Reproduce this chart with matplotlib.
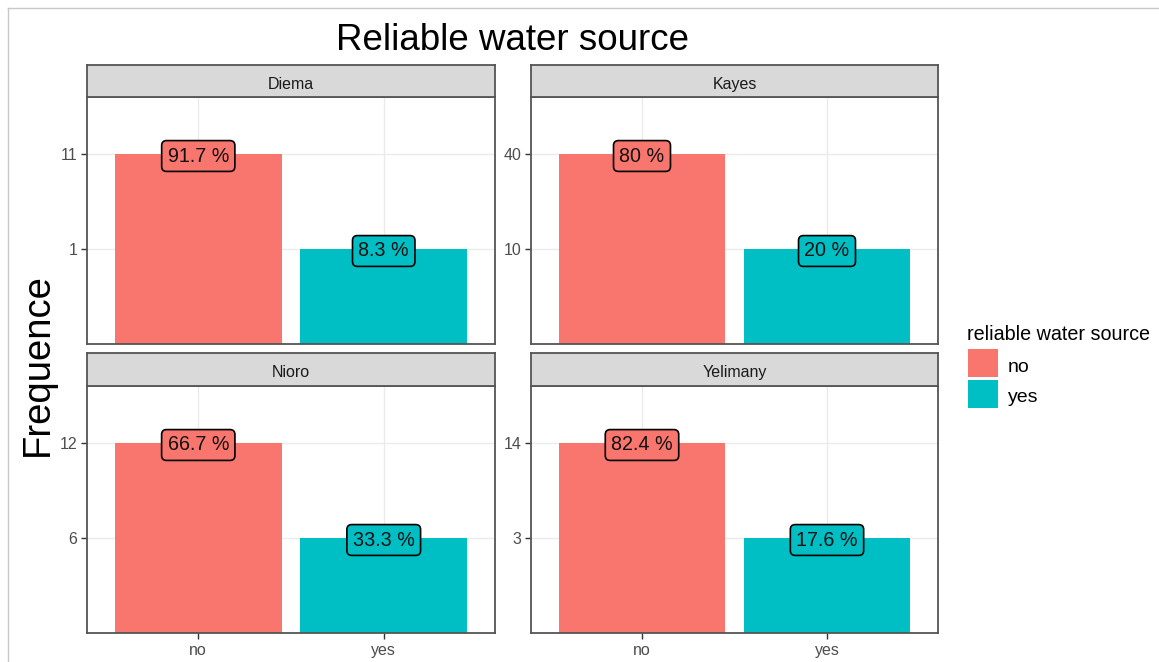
import matplotlib
matplotlib.use("Agg")
import matplotlib.pyplot as plt
from matplotlib.lines import Line2D

plt.rcParams['font.family'] = ['Liberation Sans', 'DejaVu Sans']

# ---- data ----
regions = ["Diema", "Kayes", "Nioro", "Yelimany"]
categories = ["no", "yes"]
counts_no = [11, 40, 12, 14]
counts_yes = [1, 10, 6, 3]
colors = {"no": "#F8766D", "yes": "#00BFC4"}
title = "Reliable water source"
ylabel = "Frequence"
legend_title = "reliable water source"

W, H = 1159, 662
fig = plt.figure(figsize=(W / 100, H / 100), dpi=100)

def fr(x0, y0, x1, y1):
    # pixel box (top-left origin) -> figure fraction [l, b, w, h]
    return [x0 / W, 1 - y1 / H, (x1 - x0) / W, (y1 - y0) / H]

cols = [(87, 495), (531, 938)]
rows = [((65, 97), (97, 344)), ((353, 386), (386, 633))]

def fmt_pct(p):
    return f"{round(p, 1):g} %"

for i, region in enumerate(regions):
    r, c = divmod(i, 2)
    (sy0, sy1), (py0, py1) = rows[r]
    x0, x1 = cols[c]
    ax = fig.add_axes(fr(x0, py0, x1, py1))
    sax = fig.add_axes(fr(x0, sy0, x1, sy1))

    vals = [counts_no[i], counts_yes[i]]
    total = sum(vals)
    levels = sorted(set(vals))
    pos = [levels.index(v) + 1 for v in vals]
    xs = [1, 2]
    for x, p, cat, v in zip(xs, pos, categories, vals):
        ax.bar(x, p, width=0.9, color=colors[cat], zorder=2)
        ax.text(x, p, fmt_pct(100 * v / total), ha="center", va="center_baseline",
                fontsize=14.2, color="#111111", zorder=4,
                bbox=dict(boxstyle="round,pad=0.3,rounding_size=0.25",
                          fc=colors[cat], ec="black", lw=1.2))
    ax.set_xlim(0.4, 2.6)
    ax.set_ylim(0, 2.6)
    ax.set_yticks(range(1, len(levels) + 1))
    ax.set_yticklabels([str(v) for v in levels])
    ax.set_xticks(xs)
    ax.grid(True, color="#EBEBEB", lw=1.0, zorder=0)
    ax.set_axisbelow(True)
    ax.tick_params(colors="#333333", labelcolor="#4D4D4D", labelsize=11.5,
                   width=1.0, length=4, pad=3)
    if r == 1:
        ax.set_xticklabels(categories)
    else:
        ax.set_xticklabels([])
        ax.tick_params(axis="x", length=0)
    for s in ax.spines.values():
        s.set_color("#555555")
        s.set_linewidth(1.3)

    sax.set_facecolor("#D9D9D9")
    sax.set_xticks([])
    sax.set_yticks([])
    for s in sax.spines.values():
        s.set_color("#555555")
        s.set_linewidth(1.3)
    sax.text(0.5, 0.45, region, ha="center", va="center_baseline", fontsize=11.5,
             color="#1A1A1A", transform=sax.transAxes)

# title and y label
fig.text(512.5 / W, 1 - 36 / H, title, ha="center", va="center_baseline", fontsize=26.5,
         color="black")
fig.text(38 / W, 1 - 365 / H, ylabel, ha="center", va="center", rotation=90,
         fontsize=27.5, color="black")

# legend
fig.text(967 / W, 1 - 332 / H, legend_title, ha="left", va="center_baseline", fontsize=14.2)
for k, cat in enumerate(categories):
    ky0 = 349 + k * 31
    kax = fig.add_axes(fr(968, ky0, 998, ky0 + 28))
    kax.add_patch(plt.Rectangle((0, 0), 1, 1, color=colors[cat]))
    kax.set_xlim(0, 1); kax.set_ylim(0, 1); kax.axis("off")
    fig.text(1008 / W, 1 - (ky0 + 16) / H, cat, ha="left", va="center_baseline", fontsize=14)

# screenshot frame lines
fig.add_artist(Line2D([8 / W, 1], [1 - 8 / H, 1 - 8 / H], color="#C8C8C8", lw=1.0))
fig.add_artist(Line2D([8 / W, 8 / W], [0, 1 - 8 / H], color="#C8C8C8", lw=1.0))

fig.savefig("out.png", dpi=100)
